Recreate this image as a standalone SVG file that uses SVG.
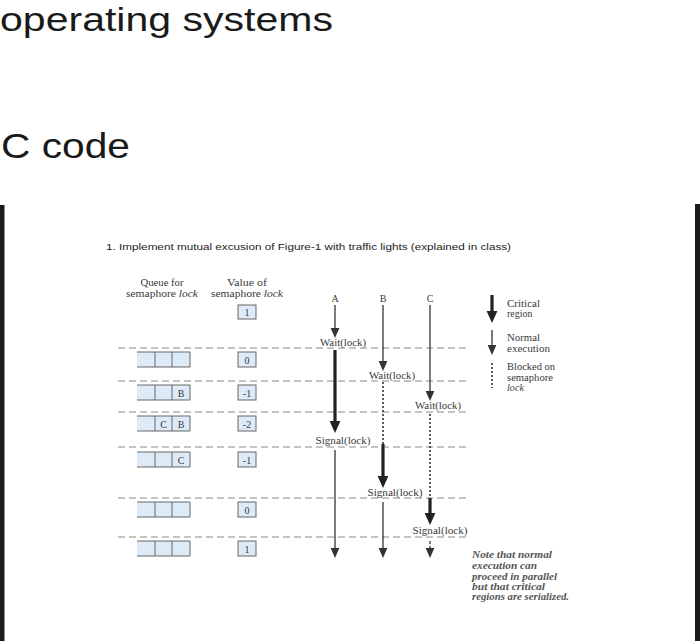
<svg xmlns="http://www.w3.org/2000/svg" width="700" height="641" viewBox="0 0 700 641">
<style>
.h{font-family:"Liberation Sans",Arial,sans-serif;fill:#1a1a1a}
.t{font-family:"Liberation Sans",Arial,sans-serif;fill:#222;font-size:9px}
.s{font-family:"Liberation Serif","Times New Roman",serif;fill:#3a3a3a;font-size:10px}
.c{text-anchor:middle}
.sep{stroke:#8a8a8a;stroke-width:1.2;stroke-dasharray:7,4;fill:none}
.cell{fill:#dcebf7;stroke:#666;stroke-width:1}
.thin{stroke:#333;stroke-width:1.3;fill:none}
.thick{stroke:#222;stroke-width:3.2;fill:none}
.dot{stroke:#333;stroke-width:1.6;stroke-dasharray:2,2;fill:none}
.note{font-family:"Liberation Serif","Times New Roman",serif;font-style:italic;font-weight:bold;fill:#555;font-size:10px}
</style>
<defs>
<marker id="ah" markerUnits="userSpaceOnUse" markerWidth="10" markerHeight="10" refX="0" refY="3.5" orient="auto" viewBox="0 0 8 7"><path d="M0,0 L8,3.5 L0,7 z" fill="#333"/></marker>
<marker id="ahb" markerUnits="userSpaceOnUse" markerWidth="12" markerHeight="12" refX="0" refY="4.5" orient="auto" viewBox="0 0 10 9"><path d="M0,0 L10,4.5 L0,9 z" fill="#222"/></marker>
</defs>
<rect width="700" height="641" fill="#fff"/>
<text class="h" x="0" y="31" font-size="33" textLength="333" lengthAdjust="spacingAndGlyphs">operating systems</text>
<text class="h" x="1" y="158" font-size="35" textLength="129" lengthAdjust="spacingAndGlyphs">C code</text>
<rect x="0" y="205" width="4.5" height="436" fill="#1c1c1c"/>
<rect x="695" y="204" width="5" height="437" fill="#1c1c1c"/>
<text class="t" x="106" y="250" textLength="405" lengthAdjust="spacingAndGlyphs">1.  Implement mutual excusion of Figure-1 with traffic lights (explained in class)</text>
<g id="headers">
<text class="s c" x="162" y="286" textLength="43" lengthAdjust="spacingAndGlyphs">Queue for</text>
<text class="s c" x="162" y="297" textLength="72" lengthAdjust="spacingAndGlyphs">semaphore <tspan font-style="italic">lock</tspan></text>
<text class="s c" x="247" y="286" textLength="40" lengthAdjust="spacingAndGlyphs">Value of</text>
<text class="s c" x="247" y="297" textLength="72" lengthAdjust="spacingAndGlyphs">semaphore <tspan font-style="italic">lock</tspan></text>
<text class="s c" x="335" y="302" font-size="11.5">A</text>
<text class="s c" x="383" y="302" font-size="11.5">B</text>
<text class="s c" x="430" y="302" font-size="11.5">C</text>
</g>
<g id="separators">
<line class="sep" x1="118" y1="348" x2="468" y2="348"/>
<line class="sep" x1="118" y1="381" x2="468" y2="381"/>
<line class="sep" x1="118" y1="412" x2="468" y2="412"/>
<line class="sep" x1="118" y1="447" x2="468" y2="447"/>
<line class="sep" x1="118" y1="498" x2="468" y2="498"/>
<line class="sep" x1="118" y1="537" x2="468" y2="537"/>
</g>
<g id="value-boxes">
<rect class="cell" x="238" y="305" width="18" height="14"/><text class="s c" x="247" y="316">1</text>
<rect class="cell" x="238" y="352" width="18" height="15"/><text class="s c" x="247" y="363.5">0</text>
<rect class="cell" x="238" y="385" width="18" height="15"/><text class="s c" x="247" y="396.5">-1</text>
<rect class="cell" x="238" y="416" width="18" height="15"/><text class="s c" x="247" y="427.5">-2</text>
<rect class="cell" x="238" y="452" width="18" height="15"/><text class="s c" x="247" y="463.5">-1</text>
<rect class="cell" x="238" y="502" width="18" height="15"/><text class="s c" x="247" y="513.5">0</text>
<rect class="cell" x="238" y="541" width="18" height="15"/><text class="s c" x="247" y="552.5">1</text>
</g>
<g id="queue-1"><rect x="137" y="352" width="53" height="15" fill="#dcebf7"/><path d="M137,352 H190 V367 H137 M155,352 V367 M172,352 V367" stroke="#666" fill="none"/></g>
<g id="queue-2"><rect x="137" y="385" width="53" height="15" fill="#dcebf7"/><path d="M137,385 H190 V400 H137 M155,385 V400 M172,385 V400" stroke="#666" fill="none"/><text class="s c" x="181" y="396.5">B</text></g>
<g id="queue-3"><rect x="137" y="416" width="53" height="15" fill="#dcebf7"/><path d="M137,416 H190 V431 H137 M155,416 V431 M172,416 V431" stroke="#666" fill="none"/><text class="s c" x="163.5" y="427.5">C</text><text class="s c" x="181" y="427.5">B</text></g>
<g id="queue-4"><rect x="137" y="452" width="53" height="15" fill="#dcebf7"/><path d="M137,452 H190 V467 H137 M155,452 V467 M172,452 V467" stroke="#666" fill="none"/><text class="s c" x="181" y="463.5">C</text></g>
<g id="queue-5"><rect x="137" y="502" width="53" height="15" fill="#dcebf7"/><path d="M137,502 H190 V517 H137 M155,502 V517 M172,502 V517" stroke="#666" fill="none"/></g>
<g id="queue-6"><rect x="137" y="541" width="53" height="15" fill="#dcebf7"/><path d="M137,541 H190 V556 H137 M155,541 V556 M172,541 V556" stroke="#666" fill="none"/></g>
<g id="connectors">
<line class="thin" x1="335" y1="305" x2="335" y2="328" marker-end="url(#ah)"/>
<line class="thick" x1="335" y1="350" x2="335" y2="421" marker-end="url(#ahb)"/>
<line class="thin" x1="335" y1="450" x2="335" y2="548" marker-end="url(#ah)"/>
<line class="thin" x1="383" y1="305" x2="383" y2="361" marker-end="url(#ah)"/>
<line class="dot" x1="383" y1="382" x2="383" y2="444"/>
<line class="thick" x1="383" y1="444" x2="383" y2="476" marker-end="url(#ahb)"/>
<line class="thin" x1="383" y1="502" x2="383" y2="548" marker-end="url(#ah)"/>
<line class="thin" x1="430" y1="305" x2="430" y2="391" marker-end="url(#ah)"/>
<line class="dot" x1="430" y1="414" x2="430" y2="498"/>
<line class="thick" x1="430" y1="498" x2="430" y2="513" marker-end="url(#ahb)"/>
<line class="thin" x1="430" y1="541" x2="430" y2="548" stroke-dasharray="3,2" marker-end="url(#ah)"/>
</g>
<g id="op-labels">
<text class="s c" x="343" y="346" textLength="46" lengthAdjust="spacingAndGlyphs">Wait(lock)</text>
<text class="s c" x="392" y="379" textLength="46" lengthAdjust="spacingAndGlyphs">Wait(lock)</text>
<text class="s c" x="438" y="409" textLength="46" lengthAdjust="spacingAndGlyphs">Wait(lock)</text>
<text class="s c" x="343" y="444" textLength="55" lengthAdjust="spacingAndGlyphs">Signal(lock)</text>
<text class="s c" x="395" y="496" textLength="55" lengthAdjust="spacingAndGlyphs">Signal(lock)</text>
<text class="s c" x="440" y="534" textLength="55" lengthAdjust="spacingAndGlyphs">Signal(lock)</text>
</g>
<g id="legend">
<line class="thick" x1="492" y1="295" x2="492" y2="311" marker-end="url(#ahb)"/>
<text class="s" x="507" y="307" textLength="33" lengthAdjust="spacingAndGlyphs">Critical</text>
<text class="s" x="507" y="317">region</text>
<line class="thin" x1="492" y1="330" x2="492" y2="345" marker-end="url(#ah)"/>
<text class="s" x="507" y="341" textLength="33" lengthAdjust="spacingAndGlyphs">Normal</text>
<text class="s" x="507" y="352" textLength="43" lengthAdjust="spacingAndGlyphs">execution</text>
<line class="dot" x1="492" y1="363" x2="492" y2="388"/>
<text class="s" x="507" y="370" textLength="48" lengthAdjust="spacingAndGlyphs">Blocked on</text>
<text class="s" x="507" y="381" textLength="46" lengthAdjust="spacingAndGlyphs">semaphore</text>
<text class="s" x="507" y="391" font-style="italic" textLength="17" lengthAdjust="spacingAndGlyphs">lock</text>
</g>
<g id="note">
<text class="note" x="472" y="558" textLength="80" lengthAdjust="spacingAndGlyphs">Note that normal</text>
<text class="note" x="472" y="568.5" textLength="65" lengthAdjust="spacingAndGlyphs">execution can</text>
<text class="note" x="472" y="579.5" textLength="85" lengthAdjust="spacingAndGlyphs">proceed in parallel</text>
<text class="note" x="472" y="589.5" textLength="73" lengthAdjust="spacingAndGlyphs">but that critical</text>
<text class="note" x="472" y="600" textLength="97" lengthAdjust="spacingAndGlyphs">regions are serialized.</text>
</g>
</svg>
